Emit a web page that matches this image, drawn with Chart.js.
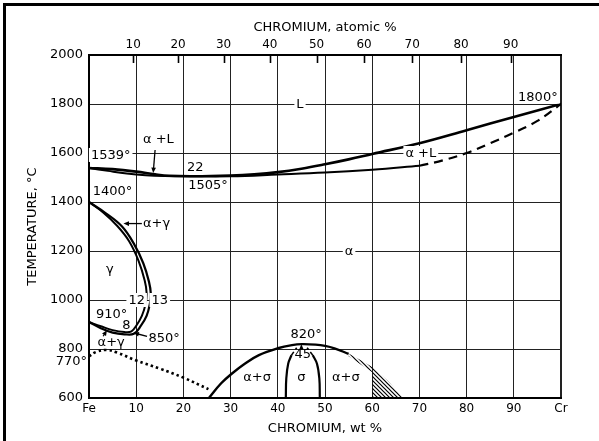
<!DOCTYPE html>
<html>
<head>
<meta charset="utf-8">
<script src="https://cdn.jsdelivr.net/npm/chart.js@4.4.0/dist/chart.umd.min.js"></script>
<style>
  html, body { margin: 0; padding: 0; background: #fff; }
  canvas { display: block; }
</style>
</head>
<body>
<canvas id="diagrama" width="599" height="441"></canvas>
<script>
const atomicTicks = [10, 20, 30, 40, 50, 60, 70, 80, 90];

const liquidusWt = [0, 5, 10, 14, 17, 22, 30, 35, 40, 45, 50, 55, 60, 70, 80, 90, 100];
const liquidusT  = [1539, 1534, 1524, 1513, 1507, 1505, 1508, 1513, 1522, 1536, 1554, 1574, 1596, 1640, 1693, 1747, 1800];

const solidusWt = [0, 4, 8, 12, 16, 22, 30, 40, 50, 60, 70];
const solidusT  = [1539, 1527, 1516, 1509, 1506, 1505, 1505, 1512, 1520, 1532, 1548];

const solidusDashWt = [70, 75, 80, 85, 90, 95, 100];
const solidusDashT  = [1548, 1570, 1600, 1640, 1683, 1731, 1800];

// lazo gamma: limite interior (gamma) y exterior (alfa)
const gammaWt = [0, 3, 6, 8.5, 10.5, 11.8, 12.2, 12.0, 11.2, 10.0, 9.0, 7.5, 5, 2.5, 0];
const gammaT  = [1400, 1357, 1302, 1240, 1160, 1080, 1030, 985, 935, 895, 872, 869, 877, 893, 910];
const alphaWt = [0, 3.5, 7, 9.5, 11.5, 12.7, 13.1, 12.9, 12.2, 11.0, 9.5, 7.5, 5, 2.5, 0];
const alphaT  = [1400, 1355, 1300, 1230, 1150, 1075, 1025, 985, 935, 895, 862, 860, 867, 885, 910];

// linea magnetica (punteada)
const magWt = [0, 1.5, 3.7, 6, 10, 15, 20, 25.3];
const magT  = [770, 788, 796, 785, 753, 720, 683, 636];

// domo sigma
const domeWt = [25.4, 28, 30.3, 33, 36, 40, 43, 45.1, 48, 50, 52, 55];
const domeT  = [600, 660, 700, 740, 775, 803, 816, 820, 818, 813, 803, 780];

const sigmaLeftWt = [41.7, 41.8, 42.2, 42.9];
const sigmaLeftT  = [600, 680, 740, 775];
const sigmaLeftDashWt = [42.9, 44.0];
const sigmaLeftDashT  = [775, 805];
const sigmaRightWt = [48.9, 48.8, 48.3, 47.4];
const sigmaRightT  = [600, 680, 740, 775];
const sigmaRightDashWt = [47.4, 46.2];
const sigmaRightDashT  = [775, 805];

// zona rayada
const hatchWt = [55, 57.5, 60, 63.5, 66.5, 60, 60, 57.5, 55];
const hatchT  = [782, 755, 727, 667, 600, 600, 705, 738, 770];

// textos y flechas (en coordenadas de datos)
const notas = [
  { t: '1539°', x: 0.4, y: 1592, bg: true, align: 'left' },
  { t: '1400°', x: 0.8, y: 1445, align: 'left' },
  { t: 'α +L', x: 14.7, y: 1660 },
  { t: '22', x: 22.5, y: 1543 },
  { t: '1505°', x: 25.2, y: 1470 },
  { t: 'L', x: 44.7, y: 1800, bg: true },
  { t: '1800°', x: 95.1, y: 1830, bg: true },
  { t: 'α +L', x: 70.3, y: 1600, bg: true },
  { t: 'α', x: 55.1, y: 1200, bg: true },
  { t: 'γ', x: 4.4, y: 1128 },
  { t: '12', x: 10.1, y: 1000, bg: true },
  { t: '13', x: 15.0, y: 1000, bg: true },
  { t: '910°', x: 4.8, y: 945 },
  { t: '8', x: 7.9, y: 900 },
  { t: '850°', x: 15.9, y: 845 },
  { t: 'α+γ', x: 14.3, y: 1314 },
  { t: 'α+γ', x: 4.7, y: 830 },
  { t: '770°', x: -0.4, y: 752, align: 'right' },
  { t: '820°', x: 46.0, y: 862 },
  { t: '45', x: 45.3, y: 782 },
  { t: 'α+σ', x: 35.6, y: 686 },
  { t: 'σ', x: 45.0, y: 688 },
  { t: 'α+σ', x: 54.4, y: 686 }
];
const flechas = [
  { from: [14.0, 1612], to: [13.6, 1518] },
  { from: [11.2, 1312], to: [7.3, 1312] },
  { from: [12.3, 852], to: [9.4, 866] },
  { from: [3.0, 852], to: [3.8, 877] },
  { from: [45.0, 810], to: [45.0, 819] }
];

function pares(xs, ys) {
  return xs.map((x, i) => ({ x: x, y: ys[i] }));
}

// Convertir % atomico a % en peso (Cr 52.00, Fe 55.85)
function atAWt(a) {
  return 100 * a * 52.0 / (a * 52.0 + (100 - a) * 55.85);
}

// patron de rayado
const tile = document.createElement('canvas');
tile.width = 4; tile.height = 4;
const tctx = tile.getContext('2d');
tctx.strokeStyle = '#000';
tctx.lineWidth = 1.2;
tctx.beginPath();
tctx.moveTo(-1, -1); tctx.lineTo(5, 5);
tctx.moveTo(-1, 3); tctx.lineTo(1, 5);
tctx.moveTo(3, -1); tctx.lineTo(5, 1);
tctx.stroke();
const rayado = tctx.createPattern(tile, 'repeat');

const FUENTE = '"DejaVu Sans", "Liberation Sans", sans-serif';

const notasPlugin = {
  id: 'notas',
  beforeDraw(chart) {
    const c = chart.ctx;
    c.save();
    c.fillStyle = '#fff';
    c.fillRect(0, 0, chart.width, chart.height);
    // marco de la figura
    c.fillStyle = '#000';
    c.fillRect(3, 3, chart.width - 3, 3);
    c.fillRect(3, 3, 3, chart.height - 3);
    c.restore();
  },
  afterDraw(chart) {
    // marcas del eje superior hacia adentro
    const c = chart.ctx;
    const top = chart.chartArea.top;
    const s2 = chart.scales.x2;
    c.save();
    c.strokeStyle = '#000';
    c.lineWidth = 1.6;
    s2.ticks.forEach(tk => {
      const px = Math.round(s2.getPixelForValue(tk.value)) + 0.5;
      c.beginPath();
      c.moveTo(px, top);
      c.lineTo(px, top + 8);
      c.stroke();
    });
    c.restore();
  },
  afterDatasetsDraw(chart) {
    const c = chart.ctx;
    const sx = chart.scales.x, sy = chart.scales.y;
    c.save();
    c.font = '13px ' + FUENTE;
    c.textBaseline = 'middle';
    notas.forEach(n => {
      const px = sx.getPixelForValue(n.x);
      const py = sy.getPixelForValue(n.y);
      const w = c.measureText(n.t).width;
      const align = n.align || 'center';
      let left = px - w / 2;
      if (align === 'left') left = px;
      if (align === 'right') left = px - w;
      if (n.bg) {
        c.fillStyle = '#fff';
        c.fillRect(left - 2, py - 7, w + 4, 14);
      }
      c.fillStyle = '#000';
      c.textAlign = 'left';
      c.fillText(n.t, left, py + 1);
    });
    c.strokeStyle = '#000';
    c.fillStyle = '#000';
    c.lineWidth = 1.3;
    flechas.forEach(f => {
      const x1 = sx.getPixelForValue(f.from[0]), y1 = sy.getPixelForValue(f.from[1]);
      const x2 = sx.getPixelForValue(f.to[0]), y2 = sy.getPixelForValue(f.to[1]);
      const ang = Math.atan2(y2 - y1, x2 - x1);
      const h = 6;
      c.beginPath();
      c.moveTo(x1, y1);
      c.lineTo(x2 - Math.cos(ang) * h * 0.8, y2 - Math.sin(ang) * h * 0.8);
      c.stroke();
      c.beginPath();
      c.moveTo(x2, y2);
      c.lineTo(x2 - h * Math.cos(ang - 0.4), y2 - h * Math.sin(ang - 0.4));
      c.lineTo(x2 - h * Math.cos(ang + 0.4), y2 - h * Math.sin(ang + 0.4));
      c.closePath();
      c.fill();
    });
    c.restore();
  }
};

function linea(xs, ys, extra) {
  return Object.assign({
    data: pares(xs, ys),
    showLine: true,
    borderColor: '#000',
    borderWidth: 2.4,
    pointRadius: 0,
    tension: 0.4,
    fill: false
  }, extra || {});
}

const ctx = document.getElementById('diagrama').getContext('2d');
const grafico = new Chart(ctx, {
  type: 'scatter',
  data: {
    datasets: [
      linea(hatchWt, hatchT, { tension: 0, borderWidth: 0, borderColor: 'rgba(0,0,0,0)', backgroundColor: rayado, fill: 'shape' }),
      linea(liquidusWt, liquidusT, { borderWidth: 2.6 }),
      linea(solidusWt, solidusT, { borderWidth: 2 }),
      linea(solidusDashWt, solidusDashT, { borderWidth: 2.2, borderDash: [9, 6] }),
      linea(gammaWt, gammaT, { borderWidth: 2 }),
      linea(alphaWt, alphaT, { borderWidth: 2.2 }),
      linea(magWt, magT, { borderWidth: 2.6, borderDash: [2.5, 3] }),
      linea(domeWt, domeT, { borderWidth: 2.4 }),
      linea(sigmaLeftWt, sigmaLeftT, { borderWidth: 2.2 }),
      linea(sigmaLeftDashWt, sigmaLeftDashT, { borderWidth: 1.6, borderDash: [4, 3], tension: 0 }),
      linea(sigmaRightWt, sigmaRightT, { borderWidth: 2.2 }),
      linea(sigmaRightDashWt, sigmaRightDashT, { borderWidth: 1.6, borderDash: [4, 3], tension: 0 })
    ]
  },
  options: {
    responsive: false,
    animation: false,
    layout: { padding: { left: 0, top: 0, right: 38, bottom: 0 } },
    plugins: { legend: { display: false }, tooltip: { enabled: false } },
    scales: {
      x: {
        type: 'linear',
        position: 'bottom',
        min: 0,
        max: 100,
        afterFit(s) { s.height = 43; },
        ticks: {
          stepSize: 10,
          padding: 4,
          color: '#000',
          font: { family: FUENTE, size: 12 },
          callback: v => (v === 0 ? 'Fe' : v === 100 ? 'Cr' : String(v))
        },
        grid: {
          color: '#222',
          drawTicks: false,
          lineWidth: c => (c.tick && c.tick.value === 100 ? 2 : 1)
        },
        border: { color: '#000', width: 2 },
        title: {
          display: true,
          text: 'CHROMIUM, wt %',
          color: '#000',
          font: { family: FUENTE, size: 13 },
          padding: { top: 0, bottom: 5 }
        }
      },
      x2: {
        type: 'linear',
        position: 'top',
        min: 0,
        max: 100,
        afterFit(s) { s.height = 55; },
        afterBuildTicks(s) {
          s.ticks = atomicTicks.map(a => ({ value: atAWt(a) }));
        },
        ticks: {
          autoSkip: false,
          padding: 3,
          color: '#000',
          font: { family: FUENTE, size: 12 },
          callback: (v, i) => String(atomicTicks[i])
        },
        grid: { display: false, drawTicks: false },
        border: { display: true, color: '#000', width: 2 },
        title: {
          display: true,
          text: 'CHROMIUM, atomic %',
          color: '#000',
          font: { family: FUENTE, size: 13 },
          padding: { top: 20, bottom: 0 }
        }
      },
      y: {
        min: 600,
        max: 2000,
        afterFit(s) { s.width = 89; },
        ticks: {
          stepSize: 200,
          padding: 6,
          color: '#000',
          font: { family: FUENTE, size: 13 },
          callback: v => String(v)
        },
        grid: { color: '#222', drawTicks: false, lineWidth: 1 },
        border: { color: '#000', width: 2 },
        title: {
          display: true,
          text: 'TEMPERATURE, °C',
          color: '#000',
          font: { family: FUENTE, size: 13 },
          padding: { top: 25, bottom: 0 }
        }
      }
    }
  },
  plugins: [notasPlugin]
});
</script>
</body>
</html>
